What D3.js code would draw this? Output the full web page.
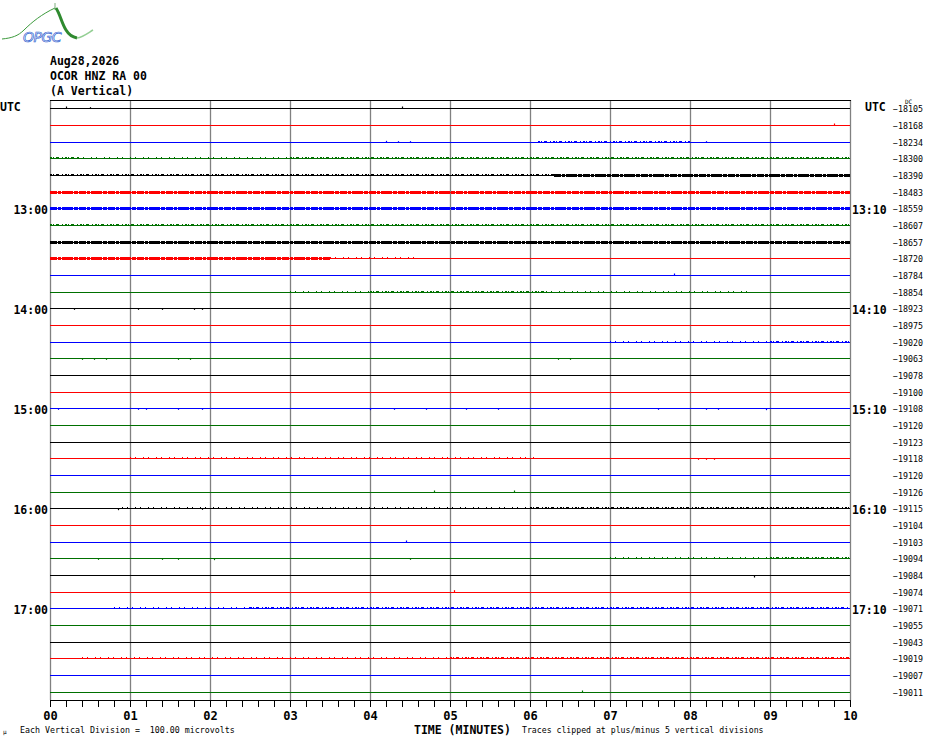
<!DOCTYPE html>
<html>
<head>
<meta charset="utf-8">
<script src="https://cdn.jsdelivr.net/npm/d3@7/dist/d3.min.js"></script>
<style>
  html, body { margin: 0; padding: 0; background: #fff; }
  svg { display: block; }
  text { font-family: "DejaVu Sans Mono", "Liberation Mono", monospace; }
</style>
</head>
<body>
<div id="chart"></div>
<script>
// --- chart values ---
var TITLE_LINES = ['Aug28,2026', 'OCOR HNZ RA 00', '(A Vertical)'];
var TRACE_COLOURS = ['#000000', '#ff0000', '#0000ff', '#007000'];
var START_HOUR = 12;
var MINUTES_PER_TRACE = 10;
var TRACE_COUNT = 36;
var MICROVOLTS_PER_DIVISION = 100;
var HOUR_LABELS = ['13:00', '14:00', '15:00', '16:00', '17:00'];
var HOUR_END_LABELS = ['13:10', '14:10', '15:10', '16:10', '17:10'];

// DC offset printed at the right of every trace (counts)
var DC_OFFSETS = [
  -18105, -18168, -18234, -18300, -18390, -18483,
  -18559, -18607, -18657, -18720, -18784, -18854,
  -18923, -18975, -19020, -19063, -19078, -19100,
  -19108, -19120, -19123, -19118, -19120, -19126,
  -19115, -19104, -19103, -19094, -19084, -19074,
  -19071, -19055, -19043, -19019, -19007, -19011
];

// stretches of continuous background noise: [trace, startMin, endMin, peak-to-peak uV]
var ACTIVITY = [
  [2, 6.1, 8.0, 8],
  [3, 0.0, 0.35, 10], [3, 0.35, 3.0, 5], [3, 3.0, 10, 10],
  [4, 0.0, 6.3, 8], [4, 6.3, 10, 13],
  [5, 0.0, 10, 13],
  [6, 0.0, 10, 12],
  [7, 0.0, 10, 8],
  [8, 0.0, 10, 13],
  [9, 0.0, 3.5, 12], [9, 3.5, 4.6, 5],
  [11, 3.0, 4.0, 5], [11, 4.0, 6.2, 10], [11, 6.2, 8.8, 5],
  [14, 7.0, 9.0, 5], [14, 9.0, 10, 10],
  [21, 1.0, 6.1, 6],
  [24, 0.9, 6.0, 5], [24, 6.0, 10, 10],
  [27, 7.0, 9.0, 5], [27, 9.0, 10, 9],
  [30, 0.8, 2.5, 5], [30, 2.5, 10, 9],
  [33, 0.4, 5.0, 5], [33, 5.0, 10, 10]
];

// isolated blips: [trace, minute, uV] (positive = up)
var SPIKES = [
  [0, 0.2, 12], [0, 0.5, 8], [0, 4.4, 12],
  [1, 9.8, 12],
  [2, 4.2, 10], [2, 4.35, 8], [2, 4.5, 8], [2, 8.2, 8],
  [10, 7.8, 12],
  [12, 0.3, -8], [12, 1.1, -8], [12, 1.4, -8], [12, 1.8, -8], [12, 1.9, -8], [12, 5.0, -8],
  [15, 0.4, -8], [15, 0.55, -8], [15, 0.7, -8], [15, 1.6, -8], [15, 1.75, -8], [15, 6.35, -8], [15, 6.5, -8],
  [18, 0.1, -8], [18, 1.1, -8], [18, 1.2, -8], [18, 1.6, -8], [18, 1.9, -8], [18, 4.0, -10],
  [18, 4.3, -8], [18, 4.7, -8], [18, 5.2, -8], [18, 5.6, -8], [18, 7.6, -8], [18, 8.2, -8],
  [18, 8.35, -8], [18, 8.95, -10],
  [21, 8.1, -8], [21, 8.2, -8], [21, 8.3, -8],
  [23, 4.8, 12], [23, 5.8, 12],
  [24, 0.85, -10], [24, 1.9, -8],
  [26, 4.45, 12],
  [27, 0.6, -8], [27, 1.4, -8], [27, 1.6, -8], [27, 2.05, -10], [27, 4.5, -8],
  [28, 8.8, -12],
  [29, 5.05, 14],
  [35, 6.65, 12]
];

(function(){
  var W = 930, H = 744;
  var svg = d3.select('#chart').append('svg').attr('width', W).attr('height', H);

  var x = d3.scaleLinear().domain([0, MINUTES_PER_TRACE]).range([50, 850]);
  var rows = d3.scaleBand().domain(d3.range(TRACE_COUNT)).range([100, 700]);
  var amp = d3.scaleLinear().domain([0, MICROVOLTS_PER_DIVISION]).range([0, rows.bandwidth()]);

  function rowY(i) { return Math.round(rows(i) + rows.bandwidth() / 2) + 0.5; }
  function colour(i) { return TRACE_COLOURS[i % TRACE_COLOURS.length]; }
  function rowOfLabel(lbl) {
    var p = lbl.split(':');
    return ((+p[0] - START_HOUR) * 60 + (+p[1])) / MINUTES_PER_TRACE;
  }

  // logo
  var logo = svg.append('g').attr('class', 'logo');
  logo.append('path').attr('d', 'M2,39 C12,38 18,36 24,30 C32,22 42,14 55,8')
    .attr('fill', 'none').attr('stroke', '#3c9a3c').attr('stroke-width', 1);
  logo.append('path').attr('d', 'M55,3 L55,10').attr('stroke', '#7fae7f').attr('stroke-width', 1);
  logo.append('path').attr('d', 'M56,8 C60,14 62,24 66,30 C69,35 72,37 77,38')
    .attr('fill', 'none').attr('stroke', '#2f8a2f').attr('stroke-width', 3);
  logo.append('path').attr('d', 'M77,38 C83,37 88,33 93,30')
    .attr('fill', 'none').attr('stroke', '#94cf94').attr('stroke-width', 1.5);
  logo.append('text').attr('x', 23).attr('y', 42).text('OPGC')
    .style('font-family', '"DejaVu Sans", sans-serif').style('font-style', 'italic')
    .style('font-size', '14px').attr('letter-spacing', -0.5)
    .attr('fill', '#ffffff').attr('stroke', '#2f5fd0').attr('stroke-width', 0.7);

  // title
  svg.append('g').selectAll('text').data(TITLE_LINES).enter().append('text')
    .attr('x', 50).attr('y', function(d, i){ return 65 + i * 15; })
    .style('font-size', '11.5px').style('font-weight', 'bold').text(function(d){ return d; });

  // minute grid
  svg.append('g').selectAll('line').data(d3.range(0, MINUTES_PER_TRACE + 1)).enter().append('line')
    .attr('x1', function(d){ return Math.round(x(d)) + 0.5; })
    .attr('x2', function(d){ return Math.round(x(d)) + 0.5; })
    .attr('y1', 100).attr('y2', 700)
    .attr('stroke', '#808080').attr('stroke-width', 1.3);

  // top frame line
  svg.append('line').attr('x1', 50).attr('x2', 851).attr('y1', 100.5).attr('y2', 100.5)
    .attr('stroke', '#000').attr('stroke-width', 1);

  // traces
  var traces = svg.append('g').attr('class', 'traces');
  traces.selectAll('line.base').data(d3.range(TRACE_COUNT)).enter().append('line')
    .attr('class', 'base')
    .attr('x1', x(0)).attr('x2', x(MINUTES_PER_TRACE))
    .attr('y1', rowY).attr('y2', rowY)
    .attr('stroke', colour).attr('stroke-width', 1);

  // noise: heavy stretches become a broken band on the trace, lighter ones ticks just above it
  traces.selectAll('line.noise').data(ACTIVITY).enter().append('line')
    .attr('class', 'noise')
    .each(function(d){
      var h = Math.max(1, Math.round(amp(d[3])));
      var heavy = d[3] >= 11;
      var y = heavy ? rowY(d[0]) : rowY(d[0]) - 1;
      d3.select(this)
        .attr('x1', x(d[1])).attr('x2', x(d[2]))
        .attr('y1', y).attr('y2', y)
        .attr('stroke', colour(d[0]))
        .attr('stroke-width', heavy ? h + 1 : 1)
        .attr('stroke-dasharray', heavy ? '7 1 3 1 11 1 4 1' :
          (d[3] >= 8 ? '2 1 1 2 3 3 1 2' : '1 4 1 7'));
    });

  traces.selectAll('line.spike').data(SPIKES).enter().append('line')
    .attr('class', 'spike')
    .attr('x1', function(d){ return Math.round(x(d[1])) + 0.5; })
    .attr('x2', function(d){ return Math.round(x(d[1])) + 0.5; })
    .attr('y1', function(d){ return rowY(d[0]); })
    .attr('y2', function(d){ return rowY(d[0]) - amp(d[2]); })
    .attr('stroke', function(d){ return colour(d[0]); }).attr('stroke-width', 1.2);

  // time axis
  var axis = d3.axisBottom(x)
    .tickValues(d3.range(0, 51).map(function(i){ return i / 5; }))
    .tickSize(7).tickSizeOuter(0).tickPadding(4)
    .tickFormat(function(d){
      return Math.abs(d - Math.round(d)) < 1e-6 ? d3.format('02d')(Math.round(d)) : '';
    });
  var ax = svg.append('g').attr('transform', 'translate(0,700)').call(axis);
  ax.select('.domain').attr('stroke', '#000');
  ax.selectAll('.tick line').attr('stroke', '#000');
  ax.selectAll('.tick text')
    .style('font-family', '"DejaVu Sans Mono", monospace')
    .style('font-size', '12px').style('font-weight', 'bold').attr('fill', '#000');

  // hour labels left and right
  var side = svg.append('g').style('font-weight', 'bold').style('font-size', '11.5px');
  side.append('text').attr('x', 0).attr('y', 111).text('UTC');
  side.append('text').attr('x', 865).attr('y', 111).text('UTC');
  side.selectAll('text.lft').data(HOUR_LABELS).enter().append('text').attr('class', 'lft')
    .attr('x', 48).attr('text-anchor', 'end')
    .attr('y', function(d){ return rowY(rowOfLabel(d)) + 5; })
    .text(function(d){ return d; });
  side.selectAll('text.rgt').data(HOUR_END_LABELS).enter().append('text').attr('class', 'rgt')
    .attr('x', 852)
    .attr('y', function(d, i){ return rowY(rowOfLabel(HOUR_LABELS[i])) + 5; })
    .text(function(d){ return d; });

  // DC offsets
  svg.append('text').attr('x', 905).attr('y', 104).style('font-size', '6px').text('DC');
  svg.append('g').selectAll('text').data(DC_OFFSETS).enter().append('text')
    .attr('x', 893).attr('y', function(d, i){ return rowY(i) + 3.5; })
    .style('font-size', '8.3px')
    .text(function(d){ return d3.format('d')(d).replace('-', '\u2013'); });

  // footer
  svg.append('text').attr('x', 3).attr('y', 734).style('font-size', '6px').attr('fill', '#000').text('\u00b5');
  svg.append('text').attr('x', 20).attr('y', 733).style('font-size', '8.3px')
    .attr('xml:space', 'preserve')
    .text('Each Vertical Division =  ' + d3.format('.2f')(MICROVOLTS_PER_DIVISION) + ' microvolts');
  svg.append('text').attr('x', 414).attr('y', 734).style('font-size', '11.5px').style('font-weight', 'bold')
    .text('TIME (MINUTES)');
  svg.append('text').attr('x', 522).attr('y', 733).style('font-size', '8.2px')
    .text('Traces clipped at plus/minus 5 vertical divisions');
})();
</script>
</body>
</html>
